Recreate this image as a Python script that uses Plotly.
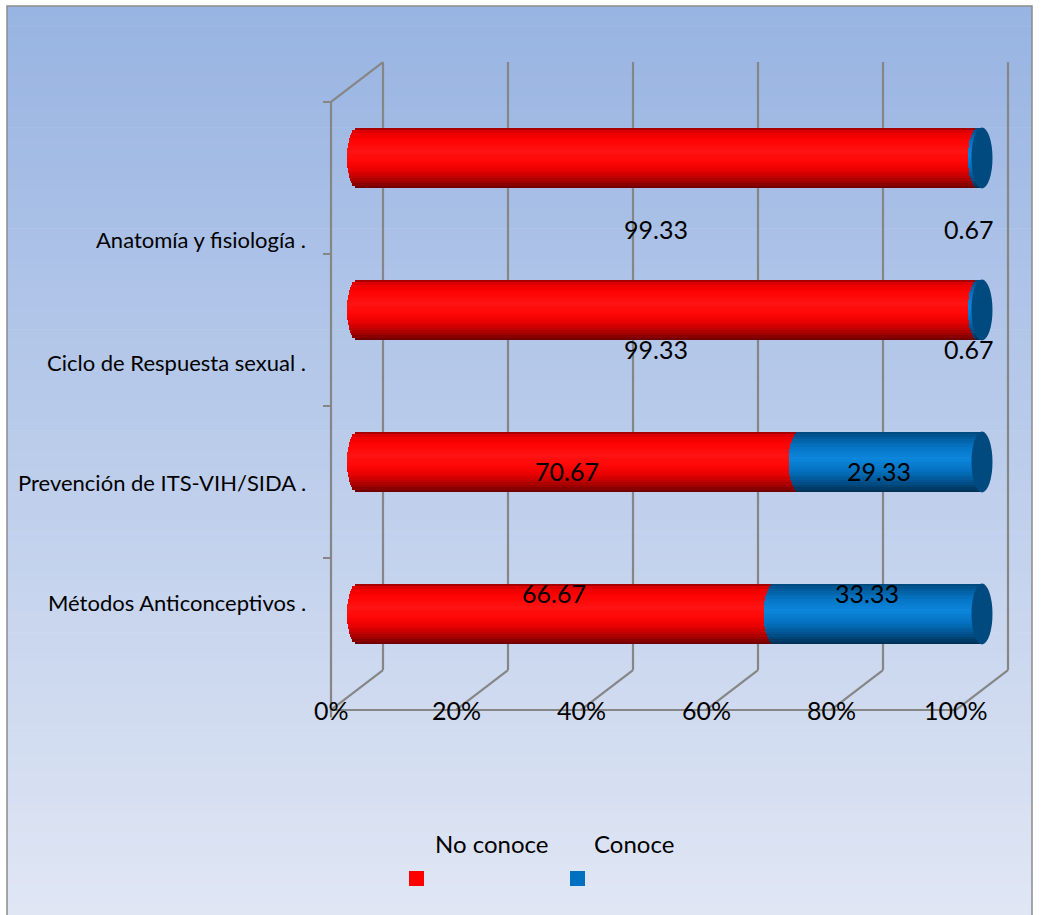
import math
import plotly.graph_objects as go

# ---- data -------------------------------------------------------------
categories = [
    "Anatomía y fisiología .",
    "Ciclo de Respuesta sexual .",
    "Prevención de ITS-VIH/SIDA .",
    "Métodos Anticonceptivos .",
]
no_conoce = [99.33, 99.33, 70.67, 66.67]
conoce = [0.67, 0.67, 29.33, 33.33]
series_names = ["No conoce", "Conoce"]
x_ticks = [0, 20, 40, 60, 80, 100]
x_tick_labels = ["0%", "20%", "40%", "60%", "80%", "100%"]

# ---- style ------------------------------------------------------------
W, H = 1057, 915
FONT = "Lato"
RED = "#FF0000"
BLUE = "#0070C0"
FACE_BLUE = "#004A80"
GRID = "#868686"

X_RANGE = [-10, 110]
Y_RANGE = [-1, 4]
X_DOMAIN = [294.5 / W, 1044.5 / W]
Y_DOMAIN = [1 - 766 / H, 1 - 6 / H]

BAR_W = 0.4          # cylinder thickness (category units)
N_STRIPES = 24       # horizontal slices used for the cylinder shading
CAP_A = 1.68         # half-width of the elliptical ends (value units)
DX, DY = 4.16, 0.1315  # half depth of the 3-D box (value / category units)

# vertical light profile of the cylinders, t = 0 bottom .. 1 top
RED_STOPS = [(0.0, (105, 0, 0)), (0.12, (165, 0, 0)), (0.3, (232, 0, 0)),
             (0.45, (255, 6, 6)), (0.6, (255, 20, 20)), (0.8, (255, 2, 2)),
             (0.93, (232, 0, 0)), (1.0, (140, 0, 0))]
BLUE_STOPS = [(0.0, (0, 45, 80)), (0.15, (0, 78, 135)), (0.35, (4, 112, 190)),
              (0.55, (12, 134, 220)), (0.75, (6, 116, 196)), (0.92, (0, 88, 150)),
              (1.0, (0, 70, 120))]

# category label and value label vertical nudges (px)
CAT_YSHIFT = [-81, -52, -20, 12]
VAL_YSHIFT = [-71, -39, -9, 21]
VAL_XSHIFT = -11


def shade(stops, t):
    for (t0, c0), (t1, c1) in zip(stops[:-1], stops[1:]):
        if t0 <= t <= t1:
            f = (t - t0) / (t1 - t0)
            r, g, b = (round(a + (bb - a) * f) for a, bb in zip(c0, c1))
            return f"rgb({r},{g},{b})"
    r, g, b = stops[-1][1]
    return f"rgb({r},{g},{b})"


n = len(categories)
pos = [n - 1 - i for i in range(n)]  # first category on top
stripe_w = BAR_W / N_STRIPES

fig = go.Figure()

# cylinders: red body first, blue body drawn over it with a convex left end
for stops, starts, lengths in ((RED_STOPS, [0.0] * n, no_conoce),
                               (BLUE_STOPS, no_conoce, conoce)):
    for k in range(N_STRIPES):
        t = (k + 0.5) / N_STRIPES
        cap = CAP_A * math.sqrt(max(0.0, 1 - (2 * t - 1) ** 2))
        fig.add_trace(go.Bar(
            orientation="h",
            y=pos,
            base=[s - cap for s in starts],
            x=[ln + cap for ln in lengths],
            width=stripe_w,
            offset=-BAR_W / 2 + k * stripe_w,
            marker=dict(color=shade(stops, t), line=dict(width=0)),
            hoverinfo="skip",
            showlegend=False,
        ))

shapes = []

# background gradient and outer frame
top_px, bot_px, left_px, right_px = 6, 915, 7, 1032
top_rgb, bot_rgb = (152, 180, 226), (224, 230, 244)
n_bg = 90
for i in range(n_bg):
    f = i / (n_bg - 1)
    col = tuple(round(a + (b - a) * f) for a, b in zip(top_rgb, bot_rgb))
    y0 = top_px + (bot_px - top_px) * i / n_bg
    y1 = top_px + (bot_px - top_px) * (i + 1) / n_bg + 0.6
    shapes.append(dict(type="rect", xref="paper", yref="paper", layer="below",
                       x0=left_px / W, x1=right_px / W,
                       y0=1 - min(y1, H) / H, y1=1 - y0 / H,
                       fillcolor=f"rgb{col}", line=dict(width=0)))
shapes.append(dict(type="rect", xref="paper", yref="paper", layer="below",
                   x0=left_px / W, x1=right_px / W, y0=-0.01, y1=1 - top_px / H,
                   line=dict(color="#8C8C8C", width=1.5), fillcolor="rgba(0,0,0,0)"))


def gline(x0, y0, x1, y1):
    shapes.append(dict(type="line", xref="x", yref="y", layer="below",
                       x0=x0, y0=y0, x1=x1, y1=y1,
                       line=dict(color=GRID, width=2.2)))


y_lo, y_hi = -0.5, n - 0.5
# left wall
gline(-DX, y_lo - DY - 0.05, -DX, y_hi - DY)
gline(-DX, y_hi - DY, DX, y_hi + DY)
for b in range(1, n + 1):
    yb = y_lo + b - DY
    gline(-DX - 1.28, yb, -DX, yb)
# back wall gridlines and floor
for v in x_ticks:
    gline(v + DX, y_lo + DY, v + DX, y_hi + DY)
    gline(v + DX, y_lo + DY, v - DX, y_lo - DY)
gline(-DX, y_lo - DY, x_ticks[-1] - DX, y_lo - DY)

# end faces of the cylinders
for p in pos:
    shapes.append(dict(type="circle", xref="x", yref="y",
                       x0=100 - CAP_A, x1=100 + CAP_A,
                       y0=p - BAR_W / 2, y1=p + BAR_W / 2,
                       fillcolor=FACE_BLUE, line=dict(width=0)))

annotations = []
# category labels
for p, name, ys in zip(pos, categories, CAT_YSHIFT):
    annotations.append(dict(x=-7.84, y=p, xref="x", yref="y", text=name,
                            xanchor="right", yanchor="middle", yshift=ys,
                            showarrow=False,
                            font=dict(family=FONT, size=22, color="#000000")))
# value labels
for p, a, b, ys in zip(pos, no_conoce, conoce, VAL_YSHIFT):
    for xc, val in ((a / 2, a), (a + b / 2, b)):
        annotations.append(dict(x=xc, y=p, xref="x", yref="y", text=f"{val:.2f}",
                                xanchor="center", yanchor="middle",
                                xshift=VAL_XSHIFT, yshift=ys, showarrow=False,
                                font=dict(family=FONT, size=25, color="#000000")))
# value axis labels on the front edge of the floor
for v, lab in zip(x_ticks, x_tick_labels):
    annotations.append(dict(x=v - DX, y=y_lo - DY, xref="x", yref="y", text=lab,
                            xanchor="center", yanchor="middle", showarrow=False,
                            font=dict(family=FONT, size=25, color="#000000")))

# legend
legend_items = [(series_names[0], RED, 491.5, 409), (series_names[1], BLUE, 634, 570)]
for name, col, tx, sx in legend_items:
    annotations.append(dict(x=tx / W, y=1 - 843 / H, xref="paper", yref="paper",
                            text=name, xanchor="center", yanchor="middle",
                            showarrow=False,
                            font=dict(family=FONT, size=24, color="#000000")))
    shapes.append(dict(type="rect", xref="paper", yref="paper",
                       x0=sx / W, x1=(sx + 15) / W,
                       y0=1 - 886 / H, y1=1 - 871 / H,
                       fillcolor=col, line=dict(width=0)))

fig.update_layout(
    width=W, height=H,
    margin=dict(l=0, r=0, t=0, b=0),
    paper_bgcolor="white",
    plot_bgcolor="rgba(0,0,0,0)",
    barmode="overlay", bargap=0, bargroupgap=0,
    showlegend=False,
    xaxis=dict(range=X_RANGE, domain=X_DOMAIN, visible=False, fixedrange=True),
    yaxis=dict(range=Y_RANGE, domain=Y_DOMAIN, visible=False, fixedrange=True),
    shapes=shapes,
    annotations=annotations,
    font=dict(family=FONT),
)

fig.write_html("out.html")
